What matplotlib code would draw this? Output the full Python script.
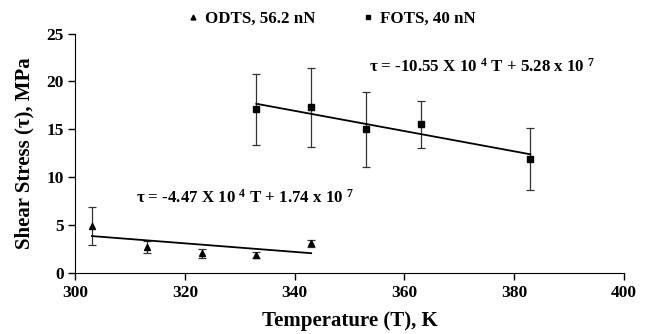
import numpy as np
import matplotlib
matplotlib.use("Agg")
from matplotlib import pyplot as plt
from matplotlib.lines import Line2D

plt.rcParams['font.family'] = ['Liberation Serif', 'DejaVu Serif']
plt.rcParams['font.weight'] = 'bold'
plt.rcParams['mathtext.fontset'] = 'custom'
plt.rcParams['mathtext.rm'] = 'Liberation Serif:bold'
plt.rcParams['mathtext.it'] = 'Liberation Serif:bold'
plt.rcParams['mathtext.bf'] = 'Liberation Serif:bold'

# data
odts_T = [303, 313, 323, 333, 343]
odts_tau = [4.9, 2.7, 2.05, 1.9, 3.1]
odts_err = [2.0, 0.65, 0.5, 0.3, 0.35]

fots_T = [333, 343, 353, 363, 383]
fots_tau = [17.1, 17.3, 15.0, 15.55, 11.9]
fots_err = [3.7, 4.1, 3.9, 2.45, 3.25]

# linear fits, MPa per K and MPa
odts_fit = (-4.47e4 / 1e6, 1.74e7 / 1e6)
fots_fit = (-10.55e4 / 1e6, 5.28e7 / 1e6)

fig = plt.figure(figsize=(6.48, 3.34), dpi=100)
ax = fig.add_axes([0.1165, 0.1826, 0.8457, 0.717])

ax.errorbar(odts_T, odts_tau, yerr=odts_err, fmt='^', color='black', ms=4.5,
            ecolor='#333333', elinewidth=0.9, capsize=3, capthick=0.9)
ax.errorbar(fots_T, fots_tau, yerr=fots_err, fmt='s', color='black', ms=4,
            ecolor='#333333', elinewidth=0.9, capsize=3, capthick=0.9)

t = np.array([odts_T[0], odts_T[-1]])
ax.plot(t, odts_fit[0] * t + odts_fit[1], color='black', lw=1.3)
t = np.array([fots_T[0], fots_T[-1]])
ax.plot(t, fots_fit[0] * t + fots_fit[1], color='black', lw=1.3)

ax.text(353.6, 21.5, r'τ = -10.55 X 10 $^{4}$ T + 5.28 x 10 $^{7}$',
        fontsize=12.2, fontweight='bold', va='center', ha='left')
ax.text(311.1, 7.9, r'τ = -4.47 X 10 $^{4}$ T + 1.74 x 10 $^{7}$',
        fontsize=12.2, fontweight='bold', va='center', ha='left')

ax.set_xlim(300, 400)
ax.set_ylim(0, 25)
ax.set_xticks([300, 320, 340, 360, 380, 400])
ax.set_yticks([0, 5, 10, 15, 20, 25])
ax.spines['top'].set_visible(False)
ax.spines['right'].set_visible(False)
ax.tick_params(direction='out', length=5, width=1, labelsize=12.5)
for lab in ax.get_xticklabels() + ax.get_yticklabels():
    lab.set_fontweight('bold')

ax.set_xlabel('Temperature (T), K', fontsize=15, fontweight='bold', labelpad=7.5)
ax.set_ylabel('Shear Stress (τ), MPa', fontsize=15, fontweight='bold', labelpad=8.5)

handles = [Line2D([], [], ls='none', marker='^', color='black', ms=3.5),
           Line2D([], [], ls='none', marker='s', color='black', ms=3.5)]
ax.legend(handles, ['ODTS, 56.2 nN', 'FOTS, 40 nN'], loc='center left',
          bbox_to_anchor=(0.205, 1.061), ncol=2, frameon=False,
          borderpad=0, borderaxespad=0,
          handlelength=0.6, handletextpad=0.41, columnspacing=2.78,
          prop={'size': 12.2, 'weight': 'bold'})

fig.savefig('out.png', dpi=100)
